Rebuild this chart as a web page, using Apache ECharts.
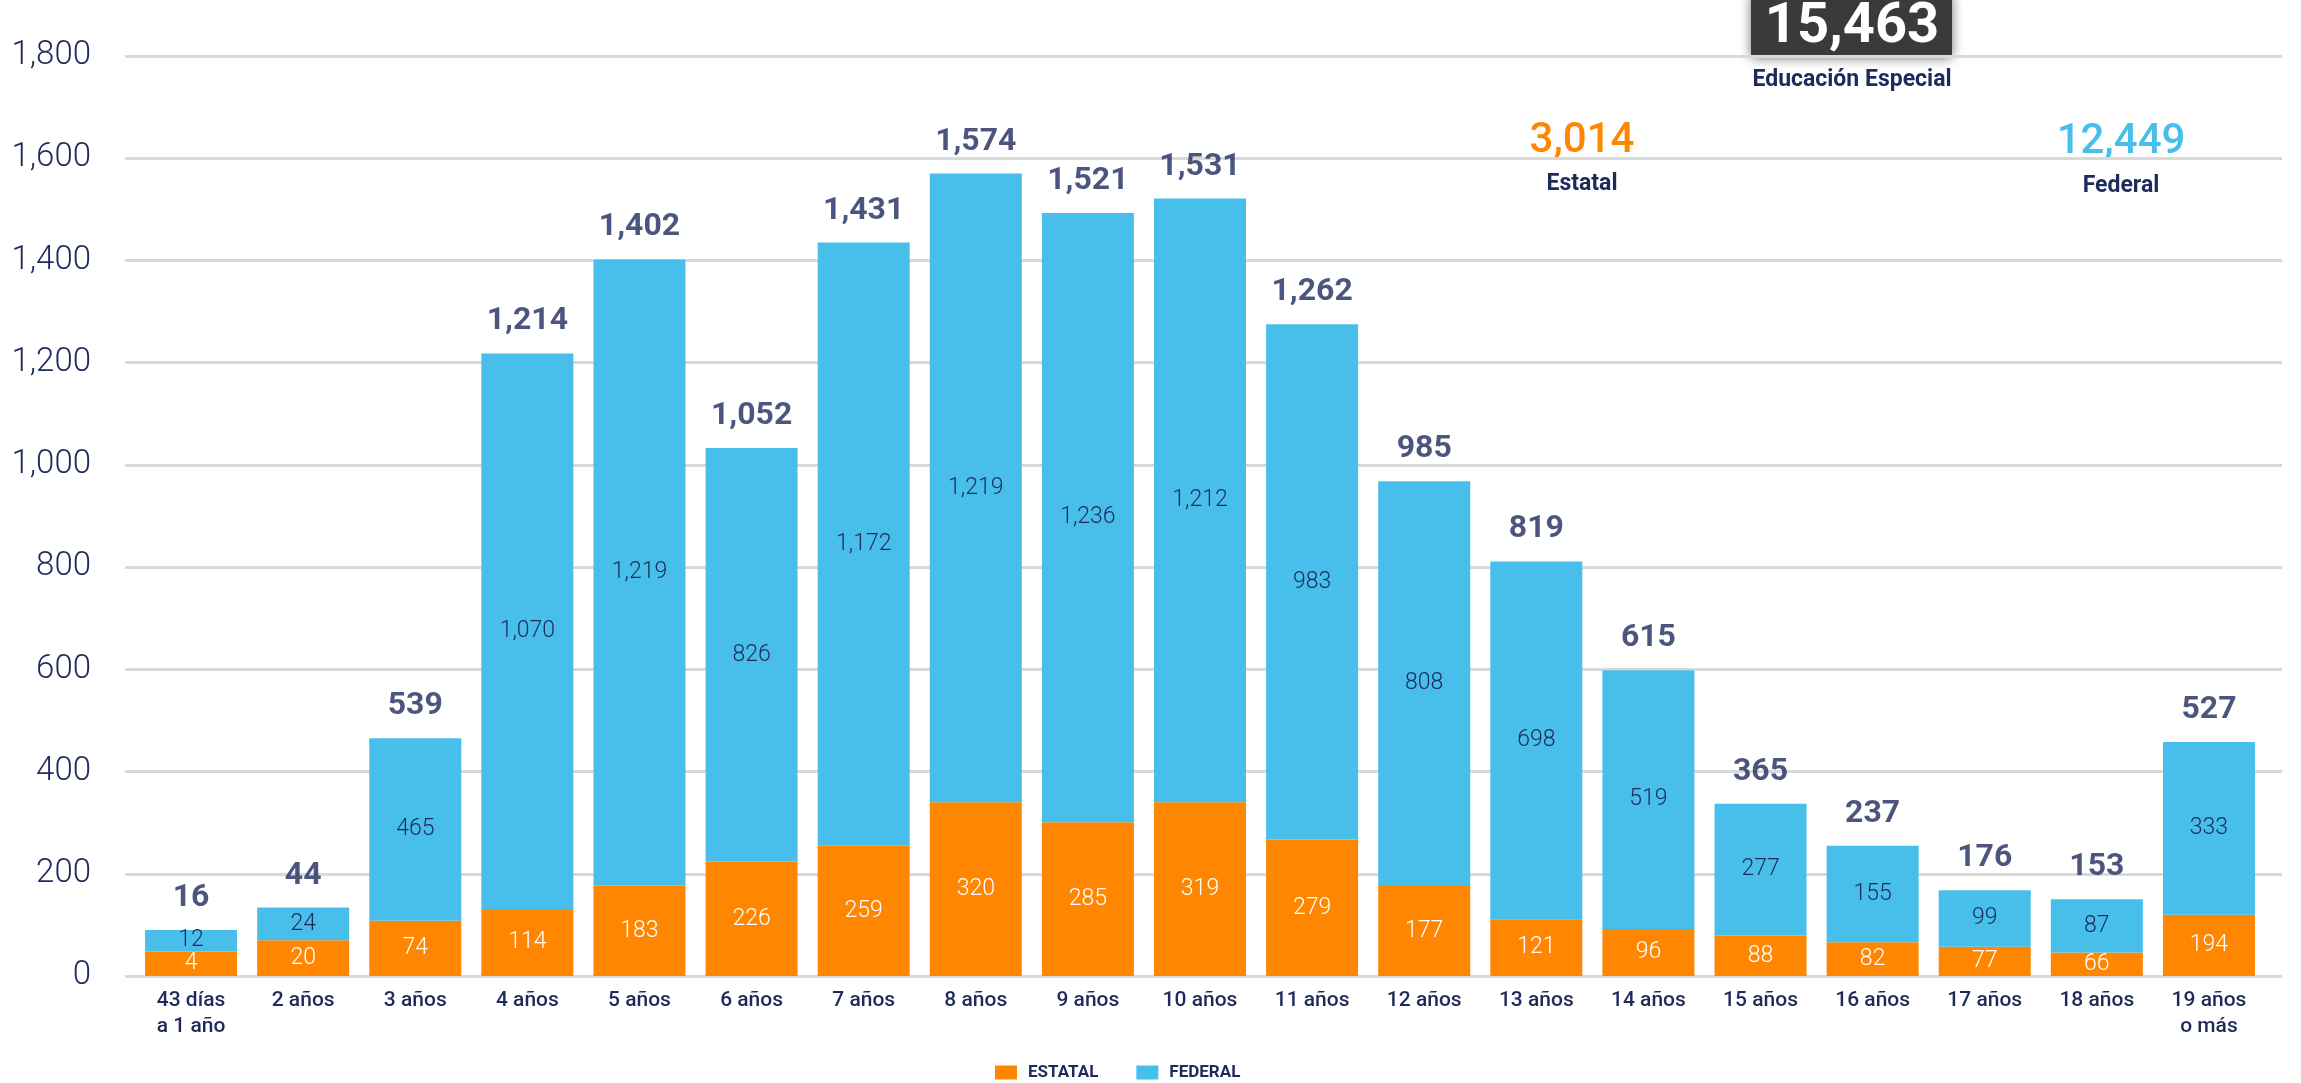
<!DOCTYPE html>
<html>
<head>
<meta charset="utf-8">
<script src="https://cdn.jsdelivr.net/npm/echarts@6/dist/echarts.min.js"></script>
<style>
    html, body { margin: 0; padding: 0; background: #fff; }
    #chart { width: 2301px; height: 1083px; }
</style>
</head>
<body>
<div id="chart"></div>
<script>
// categorías (edad)
const categories = [
    '43 días\na 1 año', '2 años', '3 años', '4 años', '5 años', '6 años', '7 años',
    '8 años', '9 años', '10 años', '11 años', '12 años', '13 años', '14 años',
    '15 años', '16 años', '17 años', '18 años', '19 años\no más'
];
// valores rotulados
const estatalLabels = [4, 20, 74, 114, 183, 226, 259, 320, 285, 319, 279, 177, 121, 96, 88, 82, 77, 66, 194];
const federalLabels = [12, 24, 465, 1070, 1219, 826, 1172, 1219, 1236, 1212, 983, 808, 698, 519, 277, 155, 99, 87, 333];
const totalLabels = [16, 44, 539, 1214, 1402, 1052, 1431, 1574, 1521, 1531, 1262, 985, 819, 615, 365, 237, 176, 153, 527];
// alturas dibujadas de las barras
const estatalHeights = [48, 70, 108, 131, 177, 224, 255, 340, 301, 340, 267, 176, 111, 92, 79, 66, 57, 46, 120];
const federalHeights = [42, 64, 357, 1087, 1225, 809, 1180, 1230, 1192, 1181, 1008, 792, 700, 506, 258, 189, 111, 104, 338];
// totales
const totalEstatal = '3,014';
const totalFederal = '12,449';
const totalGeneral = '15,463';

const NAVY = '#1f2a5c';
const ORANGE = '#FF8600';
const BLUE = '#47BFEA';
const FONT = 'Roboto';

const fmt = v => v.toLocaleString('en-US');

const instance = echarts.init(document.querySelector('#chart'));
instance.setOption({
    backgroundColor: '#fff',
    textStyle: { fontFamily: FONT },
    grid: [
        { left: 125, right: 19, top: 56, bottom: 107 },
        { left: 135, right: 36, top: 56, bottom: 107 },
    ],
    xAxis: [
        { type: 'value', gridIndex: 0, show: false },
        {
            type: 'category',
            gridIndex: 1,
            data: categories,
            axisLine: { show: false },
            axisTick: { show: false },
            axisLabel: {
                color: NAVY,
                fontSize: 21,
                fontWeight: 500,
                lineHeight: 26,
                margin: 12,
                interval: 0,
            },
        },
    ],
    yAxis: [
        {
            type: 'value',
            gridIndex: 0,
            min: 0,
            max: 1800,
            interval: 200,
            axisLine: { show: false },
            axisTick: { show: false },
            splitLine: { lineStyle: { color: '#d9d9d9', width: 3 } },
            axisLabel: {
                color: NAVY,
                fontSize: 33,
                fontWeight: 300,
                margin: 34,
                formatter: v => fmt(v),
            },
        },
        { type: 'value', gridIndex: 1, min: 0, max: 1800, interval: 200, show: false },
    ],
    legend: {
        data: ['ESTATAL', 'FEDERAL'],
        left: 990,
        top: 1059,
        icon: 'rect',
        itemWidth: 22,
        itemHeight: 14,
        itemGap: 38,
        textStyle: { color: NAVY, fontSize: 17, fontWeight: 'bold', padding: [0, 0, 0, 6] },
    },
    series: [
        {
            name: 'ESTATAL',
            type: 'bar',
            stack: 'total',
            xAxisIndex: 1,
            yAxisIndex: 1,
            barWidth: 92,
            itemStyle: { color: ORANGE },
            data: estatalHeights,
            label: {
                show: true,
                position: 'inside',
                color: '#fff',
                fontSize: 23,
                fontWeight: 300,
                formatter: p => fmt(estatalLabels[p.dataIndex]),
            },
        },
        {
            name: 'FEDERAL',
            type: 'bar',
            stack: 'total',
            xAxisIndex: 1,
            yAxisIndex: 1,
            barWidth: 92,
            itemStyle: { color: BLUE },
            data: federalHeights,
            label: {
                show: true,
                position: 'inside',
                color: NAVY,
                fontSize: 23,
                fontWeight: 300,
                formatter: p => fmt(federalLabels[p.dataIndex]),
            },
        },
        {
            name: 'total',
            type: 'scatter',
            xAxisIndex: 1,
            yAxisIndex: 1,
            symbolSize: 0,
            silent: true,
            data: estatalHeights.map((v, i) => v + federalHeights[i]),
            label: {
                show: true,
                position: 'top',
                distance: 16,
                color: NAVY,
                fontSize: 32,
                fontWeight: 'bold',
                formatter: p => fmt(totalLabels[p.dataIndex]),
            },
        },
    ],
    graphic: [
        {
            type: 'rect',
            shape: { x: 1751, y: -6, width: 201, height: 64, r: 2 },
            style: { fill: '#3a3a3a', shadowBlur: 12, shadowColor: 'rgba(0,0,0,0.55)' },
        },
        {
            type: 'text',
            x: 1852, y: 28,
            style: {
                text: totalGeneral, fill: '#fff', fontFamily: FONT, fontSize: 56, fontWeight: 'bold',
                align: 'center', verticalAlign: 'middle',
            },
        },
        {
            type: 'text',
            x: 1852, y: 80,
            style: {
                text: 'Educación Especial', fill: NAVY, fontFamily: FONT, fontSize: 23, fontWeight: 'bold',
                align: 'center', verticalAlign: 'middle',
            },
        },
        {
            type: 'text',
            x: 1582, y: 141,
            style: {
                text: totalEstatal, fill: ORANGE, fontFamily: FONT, fontSize: 42, fontWeight: 500,
                align: 'center', verticalAlign: 'middle',
            },
        },
        {
            type: 'text',
            x: 1582, y: 184,
            style: {
                text: 'Estatal', fill: NAVY, fontFamily: FONT, fontSize: 23, fontWeight: 'bold',
                align: 'center', verticalAlign: 'middle',
            },
        },
        {
            type: 'text',
            x: 2121, y: 142,
            style: {
                text: totalFederal, fill: BLUE, fontFamily: FONT, fontSize: 42, fontWeight: 500,
                align: 'center', verticalAlign: 'middle',
            },
        },
        {
            type: 'text',
            x: 2121, y: 186,
            style: {
                text: 'Federal', fill: NAVY, fontFamily: FONT, fontSize: 23, fontWeight: 'bold',
                align: 'center', verticalAlign: 'middle',
            },
        },
    ],
});
</script>
</body>
</html>
